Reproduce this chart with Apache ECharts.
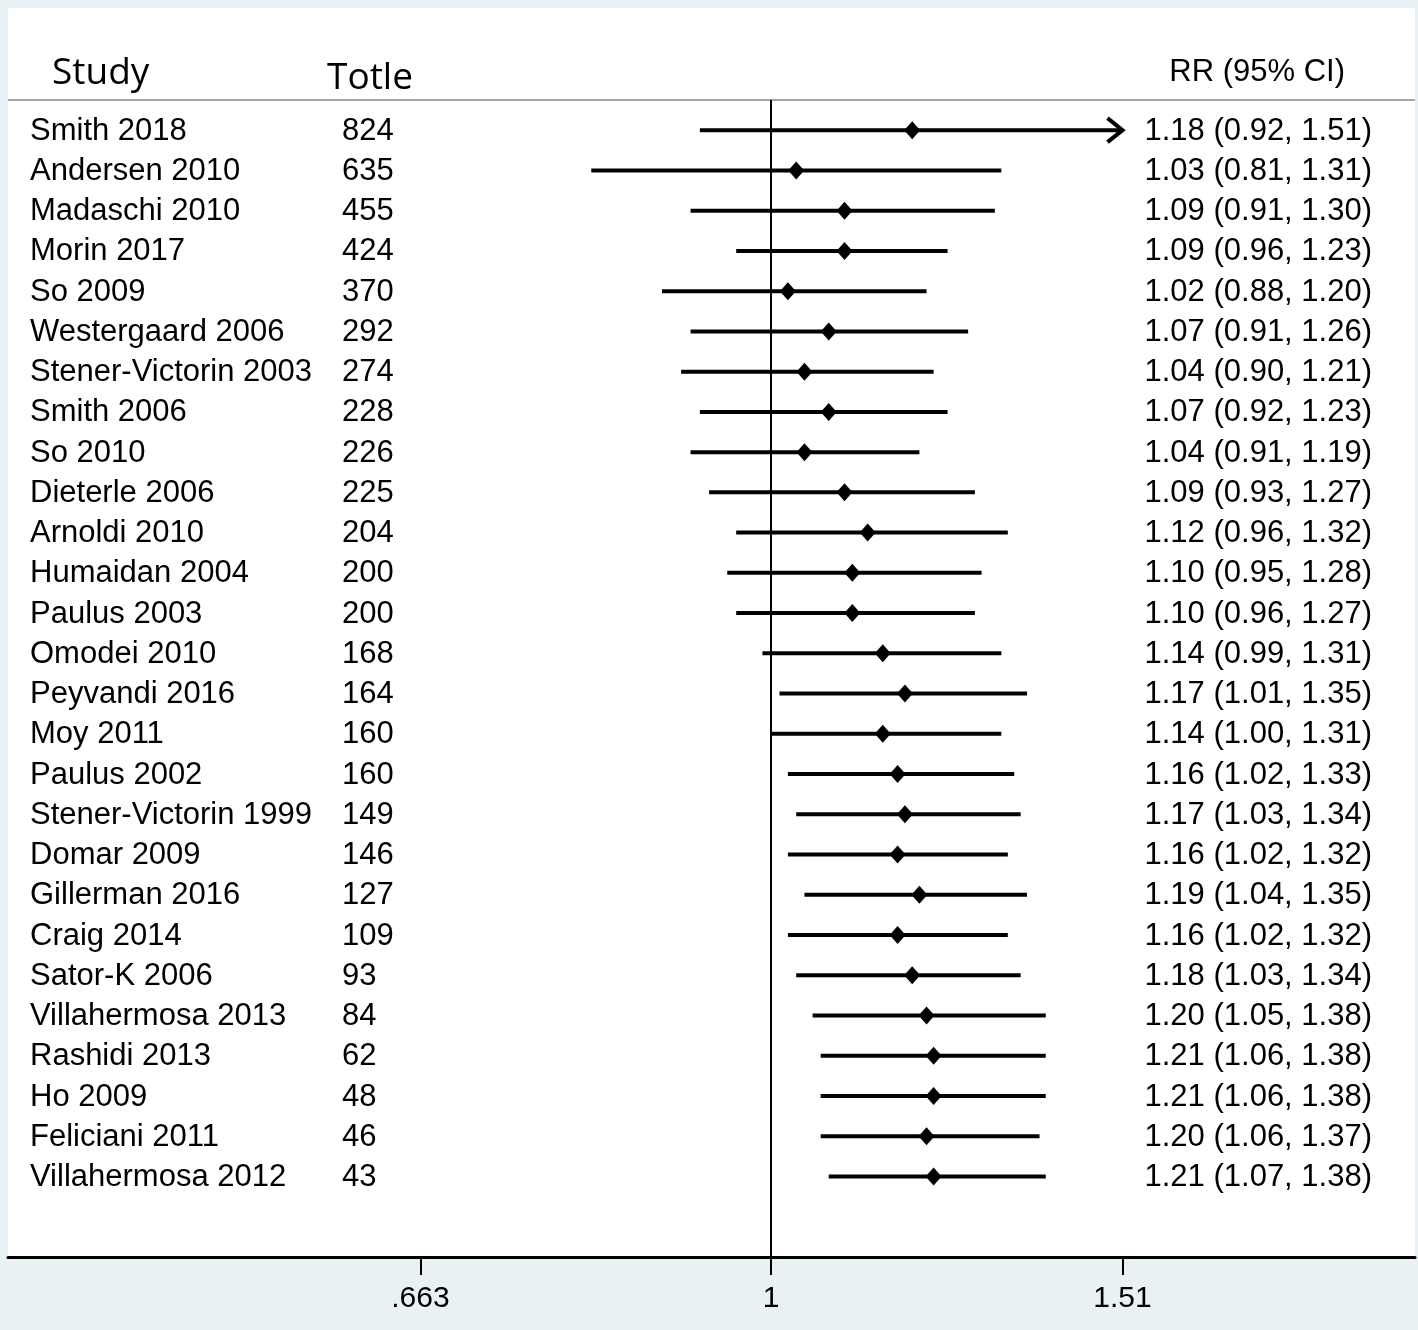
<!DOCTYPE html>
<html>
<head>
<meta charset="utf-8">
<title>Forest plot</title>
<script src="https://cdn.jsdelivr.net/npm/echarts@6/dist/echarts.min.js"></script>
<style>
  html, body { margin: 0; padding: 0; background: #e8f1f4; }
  #chart { width: 1418px; height: 1330px; }
</style>
</head>
<body>
<div id="chart"></div>
<script>
// rows, top to bottom
const studies = ['Smith 2018', 'Andersen 2010', 'Madaschi 2010', 'Morin 2017', 'So 2009', 'Westergaard 2006',
  'Stener-Victorin 2003', 'Smith 2006', 'So 2010', 'Dieterle 2006', 'Arnoldi 2010', 'Humaidan 2004', 'Paulus 2003',
  'Omodei 2010', 'Peyvandi 2016', 'Moy 2011', 'Paulus 2002', 'Stener-Victorin 1999', 'Domar 2009', 'Gillerman 2016',
  'Craig 2014', 'Sator-K 2006', 'Villahermosa 2013', 'Rashidi 2013', 'Ho 2009', 'Feliciani 2011', 'Villahermosa 2012'];
const totals = [824, 635, 455, 424, 370, 292, 274, 228, 226, 225, 204, 200, 200, 168, 164, 160, 160, 149, 146, 127, 109, 93, 84, 62, 48, 46, 43];
const rr = [1.18, 1.03, 1.09, 1.09, 1.02, 1.07, 1.04, 1.07, 1.04, 1.09, 1.12, 1.10, 1.10, 1.14, 1.17, 1.14, 1.16, 1.17, 1.16, 1.19, 1.16, 1.18, 1.20, 1.21, 1.21, 1.20, 1.21];
const lower = [0.92, 0.81, 0.91, 0.96, 0.88, 0.91, 0.90, 0.92, 0.91, 0.93, 0.96, 0.95, 0.96, 0.99, 1.01, 1.00, 1.02, 1.03, 1.02, 1.04, 1.02, 1.03, 1.05, 1.06, 1.06, 1.06, 1.07];
const upper = [1.51, 1.31, 1.30, 1.23, 1.20, 1.26, 1.21, 1.23, 1.19, 1.27, 1.32, 1.28, 1.27, 1.31, 1.35, 1.31, 1.33, 1.34, 1.32, 1.35, 1.32, 1.34, 1.38, 1.38, 1.38, 1.37, 1.38];
const xTickValues = [0.663, 1, 1.51];
const xTickLabels = ['.663', '1', '1.51'];

const clipMax = 1.51; // CIs reaching past this get an arrow
const font = '"Liberation Sans", Arial, sans-serif';
const headFont = '"Open Sans", "Noto Sans", sans-serif';

const ciData = studies.map((s, i) => [i, lower[i], upper[i]]);
const pointData = studies.map((s, i) => [rr[i], i]);
const fmt = v => v.toFixed(2);

function renderCI(params, api) {
  const i = api.value(0);
  const lo = api.value(1);
  const hi = api.value(2);
  const p0 = api.coord([lo, i]);
  const p1 = api.coord([Math.min(hi, clipMax), i]);
  const style = { stroke: '#000', lineWidth: 4, fill: null };
  const children = [{ type: 'line', shape: { x1: p0[0], y1: p0[1], x2: p1[0], y2: p1[1] }, style }];
  if (hi >= clipMax) {
    children.push({
      type: 'polyline',
      shape: { points: [[p1[0] - 15, p1[1] - 12], [p1[0], p1[1]], [p1[0] - 15, p1[1] + 12]] },
      style
    });
  }
  return { type: 'group', children };
}

function renderRow(params, api) {
  const i = api.value(0);
  const y = api.coord([1, i])[1] + 1;
  const txt = (x, text, align) => ({
    type: 'text', x, y,
    style: { text, fill: '#000', font: '31px ' + font, align, verticalAlign: 'middle' }
  });
  return {
    type: 'group',
    children: [
      txt(30, studies[i], 'left'),
      txt(342, String(totals[i]), 'left'),
      txt(1372, fmt(rr[i]) + ' (' + fmt(lower[i]) + ', ' + fmt(upper[i]) + ')', 'right')
    ]
  };
}

const chart = echarts.init(document.getElementById('chart'));
chart.setOption({
  animation: false,
  backgroundColor: '#e8f1f4',
  grid: { left: 8, right: 3, top: 100, bottom: 73, outerBoundsMode: 'none' },
  xAxis: {
    type: 'log',
    logBase: Math.E,
    min: 0.4088,
    max: 2.1276,
    axisLine: { onZero: false, lineStyle: { color: '#000', width: 3 } },
    axisTick: { show: true, customValues: xTickValues, length: 18, lineStyle: { color: '#000', width: 2 } },
    axisLabel: {
      customValues: xTickValues,
      margin: 27,
      color: '#000',
      fontSize: 30,
      fontFamily: font,
      formatter: v => {
        let best = 0;
        xTickValues.forEach((t, k) => {
          if (Math.abs(Math.log(t / v)) < Math.abs(Math.log(xTickValues[best] / v))) best = k;
        });
        return xTickLabels[best];
      }
    },
    splitLine: { show: false },
    minorTick: { show: false }
  },
  yAxis: {
    type: 'value',
    inverse: true,
    min: -0.75,
    max: 28,
    show: false
  },
  graphic: [
    { type: 'rect', z: -10, shape: { x: 8, y: 8, width: 1407, height: 1249 }, style: { fill: '#fff' }, silent: true },
    { type: 'line', shape: { x1: 8, y1: 100, x2: 1415, y2: 100 }, style: { stroke: '#a6a6a6', lineWidth: 2 }, silent: true },
    { type: 'text', x: 52, y: 73, style: { text: 'Study', font: '37px ' + headFont, fill: '#000', verticalAlign: 'middle' } },
    { type: 'text', x: 327, y: 78, style: { text: 'Totle', font: '37px ' + headFont, fill: '#000', verticalAlign: 'middle' } },
    { type: 'text', x: 1345, y: 72, style: { text: 'RR (95% CI)', font: '31px ' + font, fill: '#000', align: 'right', verticalAlign: 'middle' } }
  ],
  series: [
    {
      name: 'CI',
      type: 'custom',
      renderItem: renderCI,
      encode: { x: [1, 2], y: 0 },
      data: ciData,
      clip: false,
      z: 3
    },
    {
      name: 'RR',
      type: 'scatter',
      data: pointData,
      symbol: 'diamond',
      symbolSize: [16, 18],
      itemStyle: { color: '#000', opacity: 1 },
      z: 4,
      markLine: {
        silent: true,
        symbol: ['none', 'none'],
        label: { show: false },
        lineStyle: { color: '#000', width: 2, type: 'solid' },
        data: [{ xAxis: 1 }]
      }
    },
    {
      name: 'rows',
      type: 'custom',
      renderItem: renderRow,
      encode: { y: 0 },
      data: studies.map((s, i) => [i]),
      silent: true,
      z: 5
    }
  ]
});
</script>
</body>
</html>
